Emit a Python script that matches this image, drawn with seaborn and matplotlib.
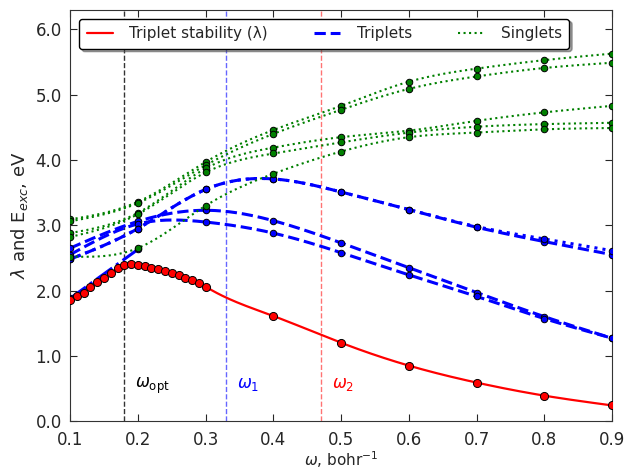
import numpy as np
import matplotlib
matplotlib.use('Agg')
import matplotlib.pyplot as plt
import seaborn as sns
from matplotlib.lines import Line2D

# omega grid (bohr^-1)
omega = [0.1, 0.2, 0.3, 0.4, 0.5, 0.6, 0.7, 0.8, 0.9]

# triplet stability, dense scan 0.10-0.30 then coarse
omega_stab = [0.10, 0.11, 0.12, 0.13, 0.14, 0.15, 0.16, 0.17, 0.18, 0.19, 0.20,
              0.21, 0.22, 0.23, 0.24, 0.25, 0.26, 0.27, 0.28, 0.29, 0.30,
              0.40, 0.50, 0.60, 0.70, 0.80, 0.90]
stability = [1.86, 1.91, 1.97, 2.05, 2.13, 2.20, 2.27, 2.34, 2.39, 2.40, 2.39,
             2.37, 2.35, 2.33, 2.30, 2.27, 2.24, 2.20, 2.16, 2.12, 2.06,
             1.61, 1.20, 0.85, 0.59, 0.39, 0.24]

# triplet excitations
trip_a = [2.65, 3.06, 3.23, 3.07, 2.73, 2.35, 1.97, 1.60, 1.27]
trip_b = [2.55, 3.02, 3.05, 2.88, 2.58, 2.24, 1.91, 1.57, 1.27]
trip_c = [2.48, 2.95, 3.55, 3.71, 3.51, 3.24, 2.97, 2.75, 2.55]
trip_d = [2.48, 2.95, 3.55, 3.71, 3.51, 3.24, 2.98, 2.79, 2.61]
trip_low_x = [0.1, 0.2]
trip_low = [1.88, 2.63]

# singlet excitations
sing_1 = [3.09, 3.36, 3.97, 4.46, 4.83, 5.20, 5.40, 5.53, 5.63]
sing_2 = [3.06, 3.34, 3.92, 4.40, 4.77, 5.09, 5.28, 5.41, 5.49]
sing_3 = [2.88, 3.19, 3.87, 4.19, 4.35, 4.45, 4.60, 4.73, 4.83]
sing_4 = [2.82, 3.17, 3.81, 4.10, 4.27, 4.42, 4.51, 4.55, 4.57]
sing_5 = [2.52, 2.65, 3.30, 3.79, 4.13, 4.35, 4.42, 4.47, 4.49]

omega_marks = [0.18, 0.33, 0.47]
omega_names = [r'$\omega_{\rm opt}$', r'$\omega_1$', r'$\omega_2$']


def smooth(x, y, n=300):
    # natural cubic spline through the points, just for drawing the line
    x = np.asarray(x, float)
    y = np.asarray(y, float)
    if len(x) < 3:
        return x, y
    m = len(x)
    h = np.diff(x)
    A = np.zeros((m, m))
    b = np.zeros(m)
    A[0, 0] = A[-1, -1] = 1
    for i in range(1, m - 1):
        A[i, i - 1] = h[i - 1]
        A[i, i] = 2 * (h[i - 1] + h[i])
        A[i, i + 1] = h[i]
        b[i] = 3 * ((y[i + 1] - y[i]) / h[i] - (y[i] - y[i - 1]) / h[i - 1])
    c = np.linalg.solve(A, b)
    bb = (y[1:] - y[:-1]) / h - h * (2 * c[:-1] + c[1:]) / 3
    d = (c[1:] - c[:-1]) / (3 * h)
    xs = np.linspace(x[0], x[-1], n)
    k = np.clip(np.searchsorted(x, xs) - 1, 0, m - 2)
    t = xs - x[k]
    ys = y[k] + bb[k] * t + c[k] * t ** 2 + d[k] * t ** 3
    return xs, ys


sns.set_style('ticks')
plt.rcParams['font.family'] = ['DejaVu Sans']
plt.rcParams['mathtext.fontset'] = 'dejavusans'

fig = plt.figure(figsize=(6.26, 4.70), dpi=100)
ax = fig.add_axes([0.112, 0.104, 0.866, 0.875])

# reference omegas
for xv, col, al in zip(omega_marks, ['black', 'blue', 'red'], [0.8, 0.6, 0.55]):
    ax.axvline(xv, color=col, ls='--', lw=1.0, alpha=al, zorder=1)
for xv, name, col in zip(omega_marks, omega_names, ['black', 'blue', 'red']):
    ax.text(xv + 0.016, 0.5, name, color=col, fontsize=12, zorder=2)

# red stability curve
xs, ys = smooth(omega_stab, stability)
sns.lineplot(x=xs, y=ys, color='red', lw=1.6, ax=ax, sort=False, estimator=None, zorder=3)

# triplets
for vals, ls in [(trip_a, '--'), (trip_b, '--'), (trip_d, ':'), (trip_c, '--')]:
    xs, ys = smooth(omega, vals)
    sns.lineplot(x=xs, y=ys, color='blue', lw=2.2, ax=ax, sort=False, estimator=None,
                 zorder=4, linestyle=ls)
sns.lineplot(x=trip_low_x, y=trip_low, color='blue', lw=2.2, ax=ax, sort=False,
             estimator=None, zorder=4, linestyle='-.')

# singlets
for vals in [sing_1, sing_2, sing_3, sing_4, sing_5]:
    xs, ys = smooth(omega, vals)
    sns.lineplot(x=xs, y=ys, color='green', lw=1.5, ax=ax, sort=False, estimator=None,
                 zorder=5, linestyle=':')

# markers
for vals in [trip_a, trip_b, trip_c, trip_d]:
    sns.scatterplot(x=omega, y=vals, color='blue', edgecolor='black', s=22,
                    linewidth=0.7, ax=ax, zorder=6)
sns.scatterplot(x=trip_low_x, y=trip_low, color='blue', edgecolor='black', s=22,
                linewidth=0.7, ax=ax, zorder=6)
for vals in [sing_1, sing_2, sing_3, sing_4, sing_5]:
    sns.scatterplot(x=omega, y=vals, color='green', edgecolor='black', s=22,
                    linewidth=0.7, ax=ax, zorder=7)
sns.scatterplot(x=omega_stab, y=stability, color='red', edgecolor='black', s=34,
                linewidth=0.7, ax=ax, zorder=8)

ax.set_xlim(0.1, 0.9)
ax.set_ylim(0.0, 6.3)
ax.set_xticks(np.arange(0.1, 0.91, 0.1))
ax.set_xticklabels(['%.1f' % v for v in np.arange(0.1, 0.91, 0.1)])
ax.set_yticks(np.arange(0, 6.1, 1.0))
ax.set_yticklabels(['%.1f' % v for v in np.arange(0, 6.1, 1.0)])
ax.tick_params(direction='in', top=True, right=True, labelsize=12, length=5)
ax.tick_params(axis='x', pad=7)
ax.tick_params(axis='y', pad=6)
for sp in ax.spines.values():
    sp.set_color('#333333')
ax.set_xlabel(r'$\omega$, bohr$^{-1}$', fontsize=11, labelpad=0)
ax.set_ylabel(r'$\lambda$ and E$_{exc}$, eV', fontsize=13)

handles = [Line2D([], [], color='red', lw=1.6),
           Line2D([], [], color='blue', lw=2.2, ls='--'),
           Line2D([], [], color='green', lw=1.5, ls=':')]
ax.legend(handles, ['Triplet stability (λ)', 'Triplets', 'Singlets'], ncol=3,
          loc='upper left', bbox_to_anchor=(0.008, 0.99), fontsize=11, shadow=True,
          fancybox=True, framealpha=1, edgecolor='black', handlelength=1.7,
          handletextpad=1.1, columnspacing=3.0, borderaxespad=0.3, borderpad=0.5)

fig.savefig('out.png', dpi=100)
